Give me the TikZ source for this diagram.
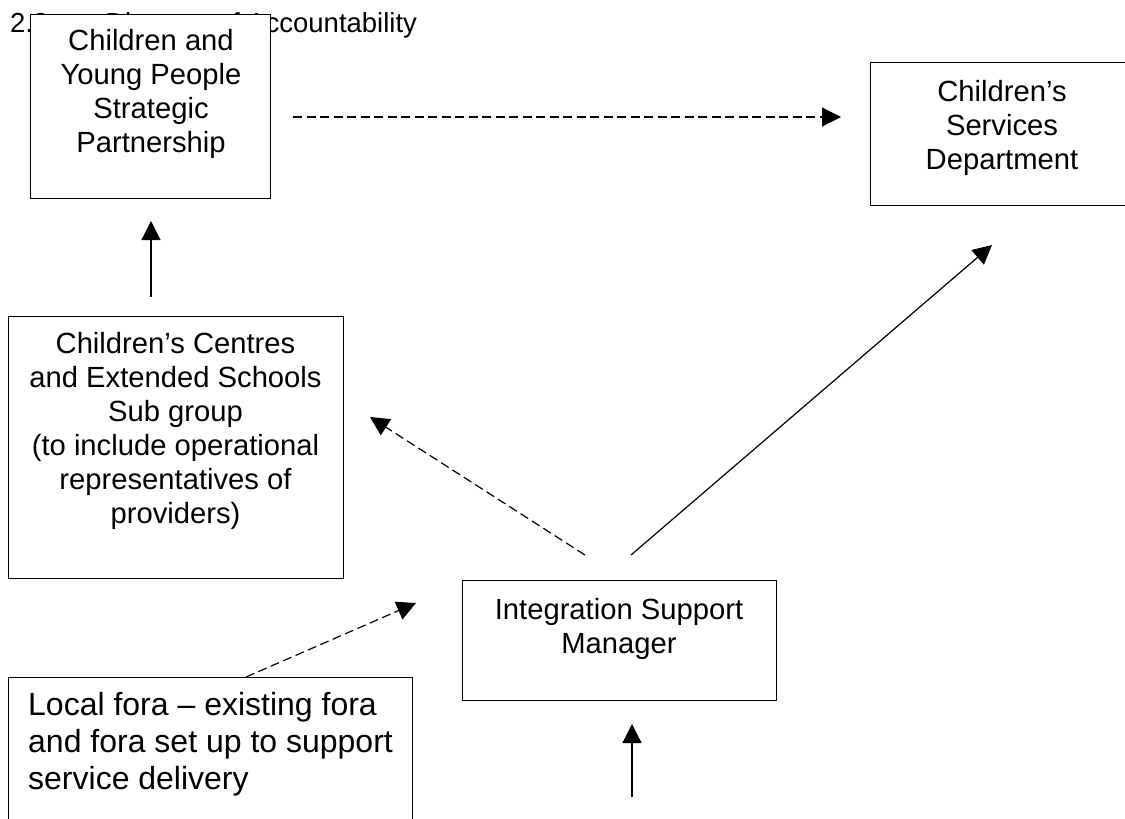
\documentclass[tikz,border=0pt]{standalone}
\usepackage{fontspec}
\setmainfont{Liberation Sans}
\usetikzlibrary{arrows.meta,calc}
\begin{document}
\begin{tikzpicture}[x=1pt,y=-1pt,
  box/.style={draw, line width=1.2pt, fill=white, rectangle, inner sep=0pt, anchor=north west},
  boxtext/.style={inner sep=0pt, anchor=north, align=center, font=\fontsize{29.2}{34}\selectfont},
  heading/.style={inner sep=0pt, anchor=base west, font=\fontsize{27.5}{34}\selectfont},
  flow/.style={line width=1.2pt, -{Triangle[length=19pt,width=19pt]}},
  dashflow/.style={flow, dash pattern=on 9pt off 4.5pt}]
\useasboundingbox (0,0) rectangle (1125,819);
\clip (0,0) rectangle (1125,819);

% section heading, partly hidden behind the first box
\node[heading] (num) at (10,32) {2.3};
\node[heading] (head) at (105,32) {Diagram of Accountability};

% boxes
\node[box, minimum width=240pt, minimum height=184pt] (cyp) at (30,14) {};
\node[boxtext] (cyptext) at (151,29.5) {Children and\\Young People\\Strategic\\Partnership};

\node[box, minimum width=264pt, minimum height=143pt] (csd) at (870,62) {};
\node[boxtext] (csdtext) at (1002,80.5) {Children’s\\Services\\Department};

\node[box, minimum width=335pt, minimum height=262pt] (cces) at (8,316) {};
\node[boxtext] (ccestext) at (175.5,332.5) {Children’s Centres\\and Extended Schools\\Sub group\\(to include operational\\representatives of\\providers)};

\node[box, minimum width=314pt, minimum height=120pt] (ism) at (462,580) {};
\node[boxtext] (ismtext) at (619,598) {Integration Support\\Manager};

\node[box, minimum width=404pt, minimum height=170pt] (fora) at (8,677) {};
\node[inner sep=0pt, anchor=north west, align=left, font=\fontsize{32}{37}\selectfont] (foratext) at (28,692.5)
  {Local fora – existing fora\\and fora set up to support\\service delivery};

% connector end points
\coordinate (a1) at (293,117);  \coordinate (a2) at (841,117);
\coordinate (b1) at (151,297);  \coordinate (b2) at (151,221);
\coordinate (c1) at (585,555);  \coordinate (c2) at (370,417);
\coordinate (d1) at (631,555);  \coordinate (d2) at (992,245);
\coordinate (e1) at (246,677);  \coordinate (e2) at (416,603);
\coordinate (f1) at (632,797);  \coordinate (f2) at (632,724);

% connectors
\draw[dashflow] (a1) -- (a2);
\draw[flow] (b1) -- (b2);
\draw[dashflow] (c1) -- (c2);
\draw[flow] (d1) -- (d2);
\draw[dashflow] (e1) -- (e2);
\draw[flow] (f1) -- (f2);
\end{tikzpicture}
\end{document}
